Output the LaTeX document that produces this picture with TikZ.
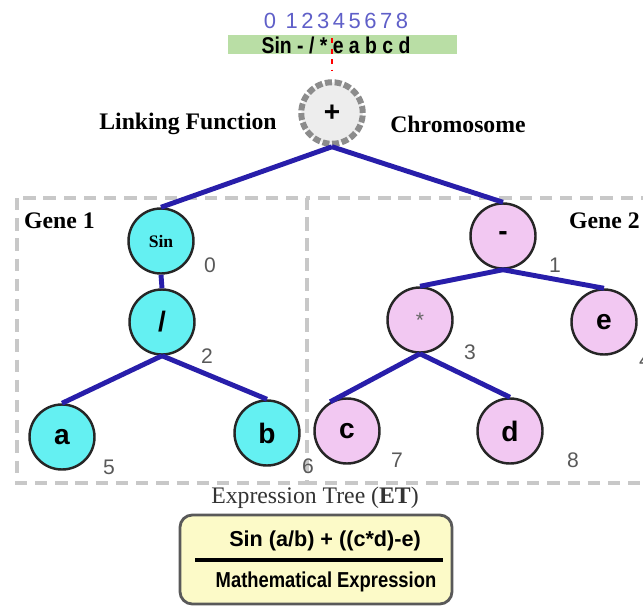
\documentclass[tikz,border=0pt]{standalone}
\usepackage{fontspec}
\setmainfont{Liberation Serif}
\setsansfont{Liberation Sans}
\newfontfamily\narrowsf[FakeStretch=0.85]{Liberation Sans}
\usetikzlibrary{positioning}
\definecolor{cyanfill}{RGB}{100,240,242}
\definecolor{pinkfill}{RGB}{242,200,242}
\definecolor{branchblue}{RGB}{40,30,170}
\definecolor{boxgray}{RGB}{200,200,200}
\definecolor{idxblue}{RGB}{95,95,200}
\definecolor{bargreen}{RGB}{185,222,165}
\definecolor{exprfill}{RGB}{252,250,200}
\tikzset{
	treenode/.style={circle, draw=black!85, line width=1.4pt, minimum size=37pt, inner sep=0pt,
		font=\sffamily\bfseries\fontsize{16}{16}\selectfont},
	geneone/.style={treenode, fill=cyanfill},
	genetwo/.style={treenode, fill=pinkfill},
	branch/.style={draw=branchblue, line width=2.8pt},
	idx/.style={font=\sffamily\fontsize{12}{12}\selectfont, text=black!65},
	genebox/.style={draw=boxgray, line width=2.3pt, dash pattern=on 7pt off 4.5pt},
	title/.style={font=\bfseries\fontsize{13.5}{13.5}\selectfont}
}
\begin{document}
\begin{tikzpicture}[x=0.02cm, y=-0.02cm]
	\useasboundingbox (0,0) rectangle (643,606);
	\clip (0,0) rectangle (643,606);
	% chromosome string
	\fill [bargreen] (228,35) rectangle (457,54);
	\node [font=\sffamily\fontsize{12.5}{12.5}\selectfont\addfontfeature{LetterSpace=16}, text=idxblue] (pos) at (336,21) {0 12345678};
	\node [font=\narrowsf\bfseries\fontsize{13}{13}\selectfont] (genes) at (336,45) {Sin - / * e a b c d};
	\draw [red, dashed, line width=1.2pt] (332,38) -- (332,70);
	% linking function
	\node [circle, minimum size=35pt, fill=black!7, draw=black!45, line width=3.4pt,
		dash pattern=on 4pt off 1.5pt, font=\sffamily\bfseries\fontsize{16}{16}\selectfont] (plus) at (332,113) {+};
	\node [title] (link) at (188,124) {Linking Function};
	\node [title] (chrom) at (458,124) {Chromosome};
	% gene boxes
	\draw [genebox] (17,198) rectangle (307,483);
	\draw [genebox] (307,198) rectangle (680,483);
	\node [title, anchor=west] (geneA) at (18,221) {Gene 1};
	\node [title, anchor=west] (geneB) at (563,221) {Gene 2};
	% gene 1
	\node [geneone, font=\bfseries\fontsize{10}{10}\selectfont] (sin) at (161,241) {Sin};
	\node [geneone] (div) at (162,322) {/};
	\node [geneone] (a) at (62,437) {a};
	\node [geneone] (b) at (267,433) {b};
	% gene 2
	\node [genetwo] (minus) at (503,236) {-};
	\node [genetwo, font=\sffamily\fontsize{12}{12}\selectfont, text=black!60] (mul) at (420,320) {*};
	\node [genetwo] (e) at (604,322) {e};
	\node [genetwo] (c) at (347,431) {c};
	\node [genetwo] (d) at (510,431) {d};
	% positions
	\node [idx] (i0) at (210,265) {0};
	\node [idx] (i1) at (555,265) {1};
	\node [idx] (i2) at (207,356) {2};
	\node [idx] (i3) at (470,352) {3};
	\node [idx] (i4) at (645,360) {4};
	\node [idx] (i5) at (109,467) {5};
	\node [idx] (i6) at (308,466) {6};
	\node [idx] (i7) at (397,460) {7};
	\node [idx] (i8) at (573,460) {8};
	% branches
	\draw [branch] (plus.south) -- (sin.north);
	\draw [branch] (plus.south) -- (minus.north);
	\draw [branch] (sin.south) -- (div.north);
	\draw [branch] (div.south) -- (a.north);
	\draw [branch] (div.south) -- (b.north);
	\draw [branch] (minus.south) -- (mul.north);
	\draw [branch] (minus.south) -- (e.north);
	\draw [branch] (mul.south) -- (c.120);
	\draw [branch] (mul.south) -- (d.north);
	% expression
	\node [font=\fontsize{13.5}{13.5}\selectfont, text=black!80] (etlabel) at (315,498) {Expression Tree (\textbf{ET})};
	\draw [draw=black!65, line width=1.6pt, rounded corners=7pt, fill=exprfill] (180,515) rectangle (452,604);
	\node [font=\sffamily\bfseries\fontsize{12.3}{12.3}\selectfont] (expr) at (325,541) {Sin (a/b) + ((c*d)-e)};
	\node [font=\narrowsf\bfseries\fontsize{12.3}{12.3}\selectfont] (mathexpr) at (326,582) {Mathematical Expression};
	\coordinate (ruleL) at (195,560);
	\coordinate (ruleR) at (443,560);
	\draw [line width=2pt] (ruleL) -- (ruleR);
\end{tikzpicture}
\end{document}
